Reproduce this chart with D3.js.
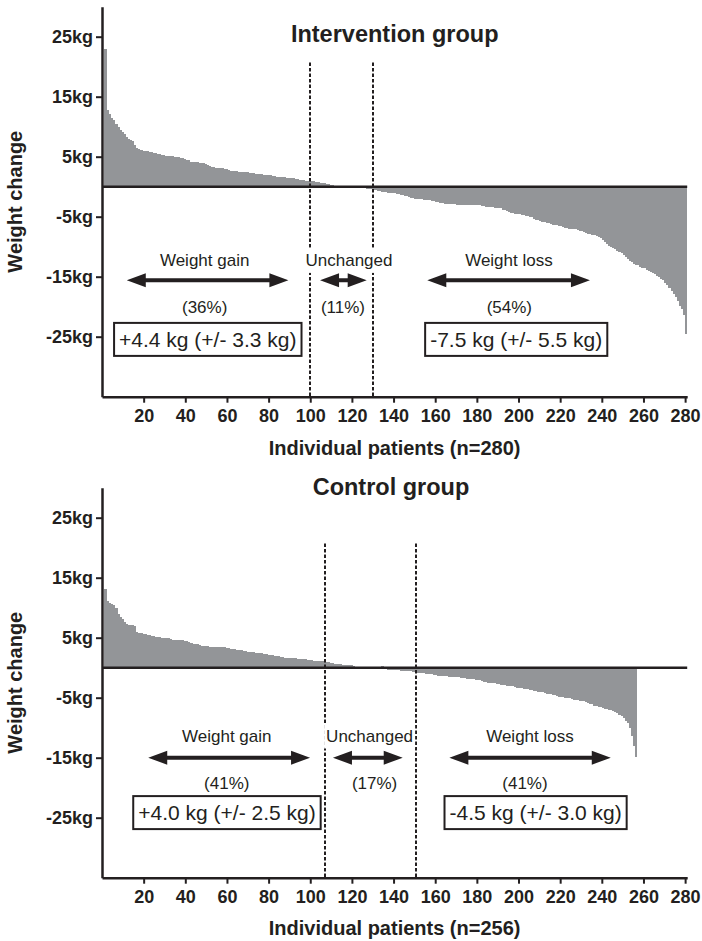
<!DOCTYPE html>
<html>
<head>
<meta charset="utf-8">
<script src="https://cdn.jsdelivr.net/npm/d3@7"></script>
<style>
  html, body { margin: 0; padding: 0; background: #fff; }
  svg { display: block; font-family: "Liberation Sans", Arial, sans-serif; }
</style>
</head>
<body>
<svg id="chart" width="702" height="941"></svg>
<script>
// weight change per patient (kg), sorted
const interventionChange = [
  23.0,12.8,12.2,11.5,11.1,10.5,10.0,9.4,9.1,8.8,
  8.3,8.0,7.8,7.6,6.9,6.4,6.3,6.1,6.0,6.0,
  5.9,5.8,5.8,5.7,5.6,5.5,5.4,5.3,5.3,5.2,
  5.2,5.1,5.1,5.0,5.0,4.9,4.8,4.8,4.6,4.5,
  4.4,4.2,4.2,4.1,4.1,4.0,4.0,4.0,3.8,3.6,
  3.5,3.3,3.3,3.2,3.2,3.1,3.1,3.0,2.9,2.8,
  2.7,2.7,2.6,2.6,2.5,2.5,2.5,2.4,2.4,2.3,
  2.3,2.3,2.2,2.2,2.1,2.1,2.0,2.0,1.9,1.9,
  1.8,1.8,1.7,1.7,1.7,1.6,1.6,1.5,1.5,1.4,
  1.4,1.3,1.3,1.2,1.1,1.1,1.0,1.0,0.9,0.9,
  0.9,0.8,0.8,0.7,0.7,0.6,0.5,0.4,0.3,0.3,
  0.2,0.1,0.1,0,0,0,0,0,0,0,
  0,0,0,-0.1,-0.1,-0.2,-0.3,-0.3,-0.4,-0.5,
  -0.6,-0.7,-0.7,-0.8,-0.8,-0.9,-1.0,-1.0,-1.1,-1.1,
  -1.2,-1.2,-1.3,-1.4,-1.5,-1.6,-1.7,-1.8,-1.9,-2.0,
  -2.0,-2.1,-2.1,-2.2,-2.2,-2.2,-2.2,-2.3,-2.4,-2.5,
  -2.6,-2.7,-2.7,-2.8,-2.8,-2.8,-2.9,-2.9,-2.9,-3.0,
  -3.0,-3.0,-3.0,-3.0,-3.0,-3.0,-3.0,-3.0,-3.0,-3.1,
  -3.1,-3.2,-3.2,-3.3,-3.3,-3.4,-3.4,-3.5,-3.5,-3.6,
  -3.6,-3.8,-3.9,-4.0,-4.2,-4.3,-4.4,-4.5,-4.6,-4.6,
  -4.7,-4.7,-4.8,-4.9,-5.0,-5.1,-5.3,-5.5,-5.6,-5.7,
  -5.8,-5.9,-6.0,-6.1,-6.2,-6.3,-6.3,-6.4,-6.5,-6.6,
  -6.7,-6.8,-6.9,-7.0,-7.0,-7.1,-7.1,-7.2,-7.3,-7.4,
  -7.5,-7.7,-7.8,-7.9,-8.0,-8.1,-8.2,-8.3,-8.6,-8.9,
  -9.2,-9.5,-9.8,-10.0,-10.2,-10.4,-10.7,-10.9,-11.1,-11.4,
  -11.7,-12.0,-12.3,-12.6,-12.8,-13.0,-13.1,-13.3,-13.5,-13.6,
  -13.8,-14.0,-14.2,-14.4,-14.6,-14.8,-15.0,-15.3,-15.6,-16.0,
  -16.4,-16.9,-17.4,-17.8,-18.3,-19.0,-19.8,-20.4,-21.4,-24.6
];
const controlChange = [
  13.2,11.1,10.8,10.6,10.4,10.0,9.0,8.4,8.2,7.6,
  7.3,7.2,7.2,7.2,7.0,6.0,5.8,5.8,5.7,5.6,
  5.5,5.4,5.3,5.3,5.2,5.2,5.1,5.0,5.0,4.9,
  4.9,4.8,4.7,4.7,4.7,4.6,4.6,4.6,4.5,4.4,
  4.3,4.2,4.0,3.9,3.9,3.8,3.7,3.7,3.6,3.6,
  3.5,3.5,3.5,3.5,3.4,3.4,3.4,3.4,3.3,3.3,
  3.2,3.1,3.1,3.0,3.0,2.9,2.8,2.8,2.7,2.7,
  2.6,2.6,2.5,2.5,2.4,2.4,2.3,2.3,2.2,2.2,
  2.1,2.0,2.0,1.9,1.8,1.8,1.7,1.7,1.6,1.6,
  1.6,1.6,1.5,1.5,1.5,1.4,1.4,1.3,1.3,1.3,
  1.2,1.2,1.1,1.1,1.1,1.0,0.9,0.9,0.8,0.8,
  0.7,0.7,0.6,0.6,0.5,0.5,0.4,0.4,0.4,0.3,
  0.2,0.2,0.1,0.1,0.1,0.1,0.1,0.1,0,0,
  0,0,0,0.3,-0.2,-0.2,-0.3,-0.3,-0.3,-0.4,
  -0.4,-0.4,-0.5,-0.5,-0.5,-0.6,-0.6,-0.6,-0.7,-0.7,
  -0.8,-0.8,-0.9,-0.9,-1.0,-1.0,-1.1,-1.1,-1.2,-1.2,
  -1.3,-1.3,-1.4,-1.4,-1.4,-1.5,-1.5,-1.5,-1.6,-1.6,
  -1.6,-1.7,-1.7,-1.7,-1.8,-1.8,-1.9,-1.9,-2.0,-2.0,
  -2.1,-2.2,-2.3,-2.4,-2.5,-2.5,-2.6,-2.6,-2.7,-2.7,
  -2.8,-2.9,-2.9,-3.0,-3.0,-3.1,-3.1,-3.2,-3.3,-3.3,
  -3.4,-3.5,-3.5,-3.6,-3.7,-3.7,-3.8,-3.9,-4.0,-4.0,
  -4.1,-4.2,-4.3,-4.4,-4.4,-4.5,-4.6,-4.7,-4.8,-4.8,
  -4.9,-5.0,-5.0,-5.1,-5.2,-5.3,-5.3,-5.4,-5.5,-5.6,
  -5.6,-5.7,-5.8,-6.0,-6.1,-6.3,-6.4,-6.5,-6.6,-6.7,
  -6.8,-6.9,-7.0,-7.1,-7.2,-7.4,-7.6,-7.8,-8.1,-8.4,
  -8.8,-9.2,-10.0,-11.4,-13.1,-14.8
];

const yTicks = [-25, -15, -5, 5, 15, 25];
const xTicks = [20, 40, 60, 80, 100, 120, 140, 160, 180, 200, 220, 240, 260, 280];
const panelTitles = ["Intervention group", "Control group"];
const xTitles = ["Individual patients (n=280)", "Individual patients (n=256)"];
const yTitle = "Weight change";
const cutoffs = [[100, 130], [107, 151]];
const groupLabels = ["Weight gain", "Unchanged", "Weight loss"];
const interventionShares = ["(36%)", "(11%)", "(54%)"];
const controlShares = ["(41%)", "(17%)", "(41%)"];
const interventionMeans = ["+4.4 kg (+/- 3.3 kg)", "-7.5 kg (+/- 5.5 kg)"];
const controlMeans = ["+4.0 kg (+/- 2.5 kg)", "-4.5 kg (+/- 3.0 kg)"];

const ink = "#231f20", barFill = "#939598";

// where each panel sits and where its annotations go (patient / kg units)
const panels = [
  {
    values: interventionChange, shares: interventionShares, means: interventionMeans,
    offset: 0, titleY: 42,
    arrows: [[11.9, 89.5], [104.7, 127.1], [156.2, 234.3]], arrowKg: -15.6,
    labelX: [49.3, 118.6, 195.4], labelKg: -13.2,
    shareX: [49.3, 115.7, 195.6], shareKg: -21.05,
    boxX: [50.8, 198.9], boxKg: -26.7
  },
  {
    values: controlChange, shares: controlShares, means: controlMeans,
    offset: 481, titleY: 495,
    arrows: [[22.2, 99.9], [110.9, 144.4], [166.8, 244.3]], arrowKg: -15.0,
    labelX: [59.9, 128.5, 205.5], labelKg: -12.3,
    shareX: [59.9, 130.9, 203.1], shareKg: -20.2,
    boxX: [60.0, 208.2], boxKg: -25.4
  }
];
const cutoffTopKg = 20.7;

const svg = d3.select("#chart");
const x = d3.scaleLinear().domain([0, 281]).range([102, 687.2]);

function arrowPath(x1, x2, y) {
  const h = 19, hw = 7, sw = 2;
  return `M${x1},${y}L${x1 + h},${y - hw}L${x1 + h},${y - sw}L${x2 - h},${y - sw}L${x2 - h},${y - hw}` +
    `L${x2},${y}L${x2 - h},${y + hw}L${x2 - h},${y + sw}L${x1 + h},${y + sw}L${x1 + h},${y + hw}Z`;
}

panels.forEach((p, pi) => {
  const y = d3.scaleLinear().domain([-35, 30]).range([396.7 + p.offset, 6.7 + p.offset]);
  const g = svg.append("g");

  // bars (slightly overlapped so neighbours don't leave hairline gaps)
  g.append("g")
    .attr("shape-rendering", "crispEdges")
    .selectAll("rect")
    .data(p.values)
    .join("rect")
    .attr("x", (d, i) => x(i + 1))
    .attr("width", (d, i) => i === p.values.length - 1 ? x(2) - x(1) : x(2) - x(1) + 1)
    .attr("y", d => y(Math.max(0, d)))
    .attr("height", d => Math.abs(y(d) - y(0)))
    .attr("fill", barFill);

  // zero line
  g.append("line")
    .attr("x1", x(0)).attr("x2", x(281))
    .attr("y1", y(0)).attr("y2", y(0))
    .attr("stroke", ink).attr("stroke-width", 2.5);

  // cutoff lines
  g.selectAll(".cut")
    .data(cutoffs[pi])
    .join("line")
    .attr("x1", d => Math.round(x(d))).attr("x2", d => Math.round(x(d)))
    .attr("y1", y(cutoffTopKg)).attr("y2", y(-35))
    .attr("stroke", ink).attr("stroke-width", 2)
    .attr("stroke-dasharray", "3.5,2");

  // arrows
  g.selectAll(".arrow")
    .data(p.arrows)
    .join("path")
    .attr("d", d => arrowPath(x(d[0]), x(d[1]), y(p.arrowKg)))
    .attr("fill", ink);

  // group labels; "Unchanged" sits on a white patch over the cut lines
  groupLabels.forEach((lab, k) => {
    const t = g.append("text")
      .attr("x", x(p.labelX[k])).attr("y", y(p.labelKg))
      .attr("text-anchor", "middle")
      .attr("font-size", 17).attr("fill", ink)
      .text(lab);
    if (k === 1) {
      const b = t.node().getBBox();
      g.insert("rect", () => t.node())
        .attr("x", b.x - 2).attr("y", b.y - 3)
        .attr("width", b.width + 4).attr("height", b.height + 6)
        .attr("fill", "#fff");
    }
    g.append("text")
      .attr("x", x(p.shareX[k])).attr("y", y(p.shareKg))
      .attr("text-anchor", "middle")
      .attr("font-size", 17).attr("fill", ink)
      .text(p.shares[k]);
  });

  // boxed means
  p.means.forEach((m, k) => {
    const t = g.append("text")
      .attr("x", x(p.boxX[k])).attr("y", y(p.boxKg))
      .attr("text-anchor", "middle")
      .attr("font-size", 21).attr("fill", ink)
      .text(m);
    const b = t.node().getBBox();
    g.insert("rect", () => t.node())
      .attr("x", b.x - 5).attr("y", b.y - 5)
      .attr("width", b.width + 10).attr("height", b.height + 10)
      .attr("fill", "#fff").attr("stroke", ink).attr("stroke-width", 2);
  });

  // axes
  const yAxis = g.append("g")
    .attr("transform", `translate(${x(0)},0)`)
    .call(d3.axisLeft(y).tickValues(yTicks).tickSize(6).tickSizeOuter(0).tickPadding(3)
      .tickFormat(d => d + "kg"));
  const xAxis = g.append("g")
    .attr("transform", `translate(0,${y(-35)})`)
    .call(d3.axisBottom(x).tickValues(xTicks).tickSize(6).tickSizeOuter(0).tickPadding(7));
  [yAxis, xAxis].forEach(a => {
    a.select(".domain").attr("stroke", ink).attr("stroke-width", 2.5);
    a.selectAll(".tick line").attr("stroke", ink).attr("stroke-width", 2);
    a.selectAll(".tick text")
      .attr("fill", ink).attr("font-size", 18).attr("font-weight", "bold")
      .attr("font-family", "Liberation Sans, Arial, sans-serif");
  });

  // titles
  g.append("text")
    .attr("x", pi === 0 ? 394.7 : 391).attr("y", p.titleY)
    .attr("text-anchor", "middle")
    .attr("font-size", 23.5).attr("font-weight", "bold").attr("fill", ink)
    .text(panelTitles[pi]);
  g.append("text")
    .attr("x", (x(0) + x(281)) / 2).attr("y", 455 + p.offset - (pi ? 1 : 0))
    .attr("text-anchor", "middle")
    .attr("font-size", 20).attr("font-weight", "bold").attr("fill", ink)
    .text(xTitles[pi]);
  const yMid = (y(30) + y(-35)) / 2;
  g.append("text")
    .attr("transform", `translate(22,${yMid}) rotate(-90)`)
    .attr("text-anchor", "middle")
    .attr("font-size", 20).attr("font-weight", "bold").attr("fill", ink)
    .text(yTitle);
});
</script>
</body>
</html>
